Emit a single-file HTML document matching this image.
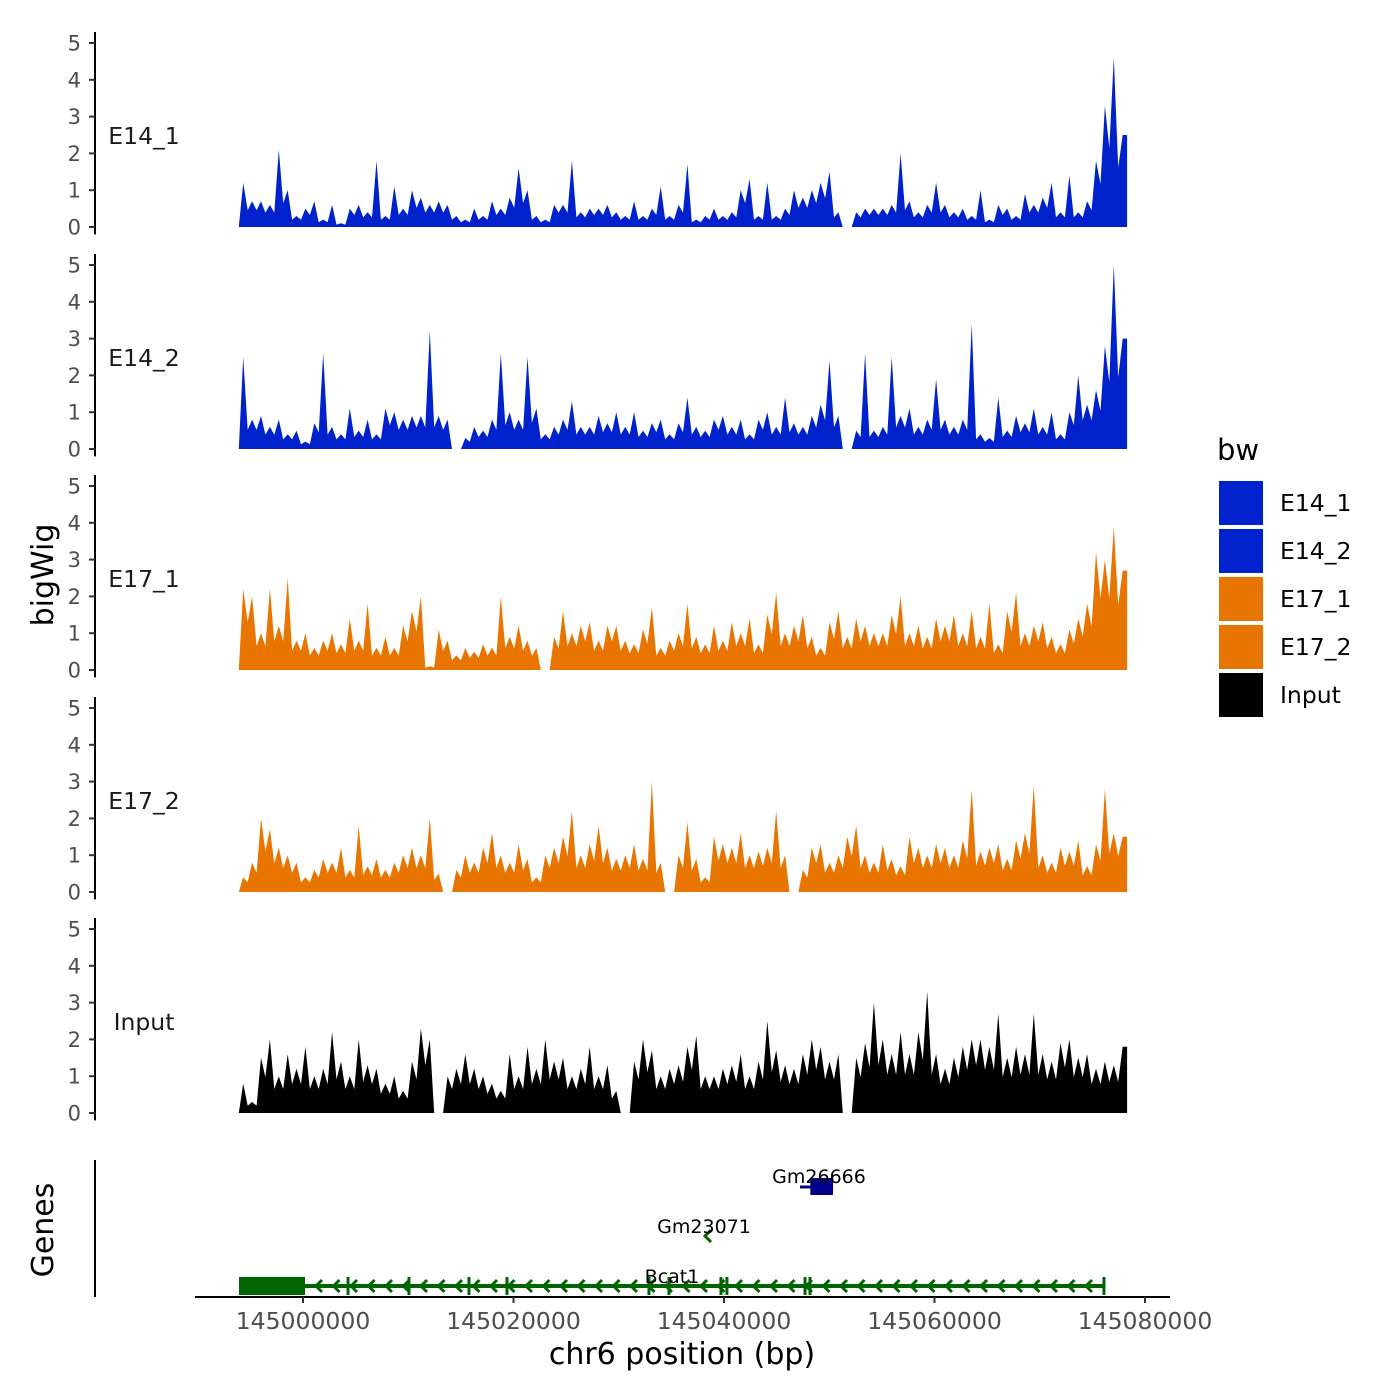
<!DOCTYPE html>
<html><head><meta charset="utf-8"><style>
body{margin:0;background:#fff}
svg{display:block;font-family:"DejaVu Sans","Liberation Sans",sans-serif}
</style></head><body>
<svg id="chart" width="1400" height="1400" viewBox="0 0 1400 1400" xmlns="http://www.w3.org/2000/svg">
<rect width="1400" height="1400" fill="#fff"/>
<g id="tracks"></g>
<g id="genes"></g>
<g id="axes"></g>
<text x="53" y="575" font-size="30" text-anchor="middle" transform="rotate(-90 53 575)">bigWig</text>
<text x="53" y="1230" font-size="30" text-anchor="middle" transform="rotate(-90 53 1230)">Genes</text>
<text x="682" y="1364" font-size="30" text-anchor="middle">chr6 position (bp)</text>
<g id="legend">
<text x="1217" y="460" font-size="29">bw</text>
</g>
</svg>
<script>
const trackNames = ["E14_1","E14_2","E17_1","E17_2","Input"];
const trackColors = ["#0022cc","#0022cc","#e87500","#e87500","#000000"];
const e14_1 = [1.2,0.7,0.7,0.6,2.1,1.0,0.3,0.5,0.7,0.2,0.6,0.1,0.5,0.6,0.4,1.8,0.3,1.1,0.5,1.0,0.8,0.6,0.7,0.6,0.3,0.2,0.5,0.3,0.7,0.5,0.8,1.6,1.0,0.3,0.2,0.6,0.6,1.8,0.4,0.5,0.5,0.6,0.4,0.3,0.7,0.3,0.5,1.1,0.3,0.6,1.7,0.2,0.3,0.5,0.3,0.4,1.0,1.3,0.3,1.2,0.3,0.5,1.0,0.8,1.0,1.2,1.5,0.4,0,0.4,0.5,0.5,0.5,0.6,2.0,0.7,0.4,0.6,1.2,0.6,0.4,0.5,0.3,1.0,0.2,0.6,0.5,0.3,0.9,0.6,0.8,1.2,0.4,1.4,0.4,0.7,1.8,3.3,4.6,2.5];
const e14_2 = [2.5,0.8,0.9,0.6,0.8,0.4,0.5,0.2,0.7,2.6,0.6,0.4,1.1,0.5,0.8,0.4,1.1,1.0,0.8,0.9,0.9,3.2,0.9,0.8,0.0,0.3,0.6,0.5,0.8,2.6,1.0,0.8,2.5,1.1,0.4,0.6,0.8,1.3,0.6,0.6,0.9,0.7,1.0,0.6,1.0,0.5,0.7,0.8,0.4,0.7,1.4,0.6,0.5,0.8,0.9,0.6,0.8,0.4,0.8,1.0,0.6,1.4,0.7,0.6,0.9,1.2,2.4,0.9,0.0,0.5,2.6,0.5,0.6,2.5,0.9,1.1,0.6,0.8,1.9,0.8,0.6,0.8,3.4,0.4,0.3,1.4,0.5,0.9,0.7,1.1,0.6,1.0,0.4,1.0,2.0,1.2,1.6,2.8,5.0,3.0];
const e17_1 = [2.2,2.0,1.0,2.2,1.2,2.5,0.8,1.0,0.6,0.8,1.0,0.7,1.4,0.8,1.8,0.6,0.9,0.6,1.2,1.6,2.0,0.1,1.1,0.8,0.4,0.6,0.5,0.7,0.6,2.0,0.9,1.2,0.8,0.6,0.0,0.9,1.6,1.0,1.2,1.3,0.8,1.2,1.2,0.8,0.7,1.1,1.7,0.6,0.8,1.0,1.8,0.9,0.7,1.2,0.8,1.3,1.0,1.4,0.7,1.5,2.1,1.0,1.2,1.5,0.9,0.6,1.3,1.6,0.9,1.4,1.2,1.0,1.0,1.5,2.0,1.0,1.2,0.9,1.4,1.2,1.5,1.0,1.6,0.9,1.8,0.7,1.6,2.1,1.0,1.2,1.3,0.9,0.7,1.1,1.4,1.8,3.2,3.0,3.9,2.7];
const e17_2 = [0.4,0.8,2.0,1.7,1.2,1.0,0.8,0.4,0.6,0.9,0.8,1.2,0.6,1.8,0.7,0.9,0.6,0.8,1.0,1.2,1.0,2.0,0.5,0.0,0.6,1.0,0.8,1.2,1.6,1.0,0.8,1.3,0.9,0.4,1.0,1.2,1.5,2.2,1.0,1.3,1.8,1.2,0.9,1.0,1.3,0.9,3.0,0.8,0.0,1.0,1.9,0.9,0.4,1.5,1.3,1.2,1.6,1.0,1.1,1.2,2.2,1.0,0.0,0.6,1.2,1.3,0.8,1.0,1.5,1.8,1.0,0.8,1.3,0.9,0.7,1.5,1.2,1.0,1.3,1.2,1.0,1.4,2.8,1.1,1.2,1.3,0.9,1.4,1.6,2.9,1.0,0.8,1.2,1.1,1.4,0.7,1.3,2.8,1.6,1.5];
const input = [0.8,0.3,1.5,2.0,1.0,1.6,1.2,1.8,1.0,1.2,2.2,1.4,1.0,2.0,1.3,1.2,0.8,1.0,0.6,1.4,2.3,2.0,0.0,1.0,1.2,1.6,1.2,1.0,0.8,0.6,1.6,1.0,1.8,1.2,2.0,1.4,1.5,1.0,1.2,1.8,1.0,1.3,0.6,0.0,1.4,2.0,1.7,1.0,1.2,1.3,1.8,2.1,1.0,1.0,1.2,1.3,1.6,1.0,1.4,2.5,1.7,1.3,1.2,1.6,2.0,1.8,1.4,1.6,0.0,1.5,1.9,3.0,2.0,1.6,2.2,1.6,2.2,3.3,1.6,1.2,1.5,1.8,2.0,2.0,1.8,2.7,1.5,1.8,1.6,2.7,1.6,1.4,1.9,2.0,1.5,1.6,1.2,1.4,1.3,1.8];
const trackData = [e14_1,e14_2,e17_1,e17_2,input];
const yTicks = [0,1,2,3,4,5];
const xTicks = [145000000,145020000,145040000,145060000,145080000];
const regionStart = 144993900, regionEnd = 145078300;
const bcat1Start = 144993920, bcat1End = 145076100, bcat1ThickEnd = 145000190;
const bcat1Exons = [145004280,145010070,145015770,145019380,145032870,145034770,145039710,145040280,145047700,145048170,145076100];
const gm26666 = [145047220,145048200,145050360];
const gm23071 = 145038290;
const legendLabels = ["E14_1","E14_2","E17_1","E17_2","Input"];
const legendColors = ["#0022cc","#0022cc","#e87500","#e87500","#000000"];

const NS="http://www.w3.org/2000/svg";
function mk(tag,attrs,parent){const e=document.createElementNS(NS,tag);for(const k in attrs)e.setAttribute(k,attrs[k]);parent.appendChild(e);return e;}
const xS = g => 303 + (g-145000000)*842/80000;
const panelZero = [227,449,670,892,1113];
const yS = (p,v) => panelZero[p] - v*36.8;
const tracks=document.getElementById('tracks');
const axes=document.getElementById('axes');
trackData.forEach((vals,p)=>{
  const n=vals.length, bw=(regionEnd-regionStart)/n;
  let d=`M${xS(regionStart)},${yS(p,0)}`;
  vals.forEach((v,i)=>{
    d+=` L${xS(regionStart+bw*(i+0.5)).toFixed(1)},${yS(p,v).toFixed(1)}`;
    if(i<n-1){const dip=Math.min(v,vals[i+1])*0.65;
      d+=` L${xS(regionStart+bw*(i+1)).toFixed(1)},${yS(p,dip).toFixed(1)}`;}
  });
  d+=` L${xS(regionEnd)},${yS(p,vals[n-1])} L${xS(regionEnd)},${yS(p,0)} Z`;
  const path=mk('path',{d:d,fill:trackColors[p]},tracks);
  
  
  const ax=mk('line',{x1:95,x2:95,y1:yS(p,5.3),y2:yS(p,-0.2),stroke:'#000','stroke-width':2},axes);
  
  
  yTicks.forEach(t=>{
    const tk=mk('line',{x1:89,x2:95,y1:yS(p,t),y2:yS(p,t),stroke:'#333','stroke-width':2},axes);
    
    
    const tl=mk('text',{x:81,y:yS(p,t)+7.5,'font-size':21,'text-anchor':'end',fill:'#4d4d4d'},axes);
    tl.textContent=t;
    
    
  });
  const lb=mk('text',{x:144,y:yS(p,2.5)+9,'font-size':23.5,'text-anchor':'middle',fill:'#1a1a1a'},axes);
  lb.textContent=trackNames[p];
  
  
});
const xl=mk('line',{x1:195,x2:1170,y1:1297,y2:1297,stroke:'#000','stroke-width':2},axes);


const gl=mk('line',{x1:95,x2:95,y1:1160,y2:1297,stroke:'#000','stroke-width':2},axes);


xTicks.forEach(t=>{
  const tk=mk('line',{x1:xS(t),x2:xS(t),y1:1297,y2:1303,stroke:'#333','stroke-width':2},axes);
  
  
  const tl=mk('text',{x:xS(t),y:1329,'font-size':23.5,'text-anchor':'middle',fill:'#4d4d4d'},axes);
  tl.textContent=t;
  
  
});
const genes=document.getElementById('genes');
const green='#006400', navy='#00008b';
const bl=mk('line',{x1:xS(bcat1Start),x2:xS(bcat1End),y1:1286,y2:1286,stroke:green,'stroke-width':4},genes);


const bb=mk('rect',{x:xS(bcat1Start),y:1277,width:xS(bcat1ThickEnd)-xS(bcat1Start),height:18,fill:green},genes);


bcat1Exons.forEach(g=>{
  const e=mk('line',{x1:xS(g),x2:xS(g),y1:1277,y2:1295,stroke:green,'stroke-width':3},genes);
  
  
});
for(let x=xS(bcat1ThickEnd)+12;x<xS(bcat1End)-5;x+=17.5){
  const a=mk('path',{d:`M${x+5},${1280} L${x-1},${1286} L${x+5},${1292}`,stroke:green,'stroke-width':3,fill:'none'},genes);
  
  
}
const bt=mk('text',{x:672,y:1283,'font-size':19,'text-anchor':'middle'},genes);
bt.textContent='Bcat1';


const ga=mk('path',{d:`M${xS(gm23071)+5},1230 L${xS(gm23071)-1},1236 L${xS(gm23071)+5},1242`,stroke:green,'stroke-width':3,fill:'none'},genes);


const gt=mk('text',{x:704,y:1233,'font-size':19,'text-anchor':'middle'},genes);
gt.textContent='Gm23071';


const ml=mk('line',{x1:xS(gm26666[0]),x2:xS(gm26666[2]),y1:1187,y2:1187,stroke:navy,'stroke-width':3},genes);


const mb=mk('rect',{x:xS(gm26666[1]),y:1178,width:xS(gm26666[2])-xS(gm26666[1]),height:17,fill:navy},genes);


const mt=mk('text',{x:819,y:1183,'font-size':19,'text-anchor':'middle'},genes);
mt.textContent='Gm26666';


const lg=document.getElementById('legend');
legendLabels.forEach((l,i)=>{
  const r=mk('rect',{x:1219,y:481+i*48,width:44,height:44,fill:legendColors[i]},lg);
  
  
  const t=mk('text',{x:1280,y:511+i*48,'font-size':23.5},lg);
  t.textContent=l;
  
  
});
</script>
</body></html>
